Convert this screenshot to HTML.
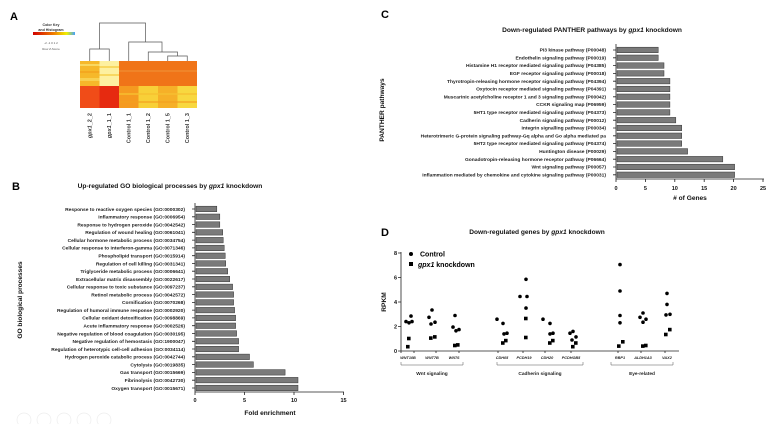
<!DOCTYPE html>
<html><head><meta charset="utf-8"><style>
html,body{margin:0;padding:0;background:#fff;}
svg{display:block;font-family:"Liberation Sans",Arial,sans-serif;}
.l{font-size:4.9px;font-weight:bold;fill:#222;text-anchor:end;}
.t{font-size:6.6px;font-weight:bold;fill:#111;}
.tk{font-size:5.5px;font-weight:bold;fill:#111;}
.bar{fill:#7a7a7a;stroke:#333;stroke-width:0.5;}
</style></head><body>
<svg width="774" height="424" viewBox="0 0 774 424" xmlns="http://www.w3.org/2000/svg">
<rect width="774" height="424" fill="#fff"/>
<!-- A -->
<text x="10" y="20" font-size="11" font-weight="bold">A</text>
<text x="51" y="26" font-size="3.6" font-weight="bold" text-anchor="middle" fill="#333">Color Key</text>
<text x="51" y="31" font-size="3.6" font-weight="bold" text-anchor="middle" fill="#333">and Histogram</text>
<defs><linearGradient id="ck" x1="0" x2="1"><stop offset="0" stop-color="#d00000"/><stop offset="0.5" stop-color="#f08000"/><stop offset="0.8" stop-color="#f0f000"/><stop offset="1" stop-color="#40a0ff"/></linearGradient></defs>
<rect x="33" y="32" width="42" height="3" fill="url(#ck)"/>
<text x="51" y="44" font-size="3" text-anchor="middle" fill="#555">-2  -1  0  1  2</text>
<text x="51" y="50" font-size="3" text-anchor="middle" fill="#555">Row Z-Score</text>
<g stroke="#555" stroke-width="0.7" fill="none">
<path d="M89.75 61V49H109.25V61M99.5 49V23H145.5V42"/>
<path d="M128.75 61V42H162V52"/>
<path d="M148.25 61V52H177.5V56"/>
<path d="M167.75 61V56H187.25V61"/>
</g>
<rect x="80" y="61" width="19.5" height="25" fill="#f6b82a"/>
<rect x="80" y="64" width="19.5" height="2" fill="#f9d860"/>
<rect x="80" y="71" width="19.5" height="2" fill="#f4a820"/>
<rect x="80" y="78" width="19.5" height="3" fill="#f8d050"/>
<rect x="99.5" y="61" width="19.5" height="25" fill="#fdf0a0"/>
<rect x="99.5" y="66" width="19.5" height="2" fill="#f8d860"/>
<rect x="99.5" y="74" width="19.5" height="2" fill="#f8d860"/>
<rect x="80" y="86" width="19.5" height="22" fill="#f04c18"/>
<rect x="99.5" y="86" width="19.5" height="22" fill="#e62a10"/>
<rect x="119" y="61" width="78" height="25" fill="#f07418"/>
<rect x="119" y="70" width="78" height="2" fill="#f08428"/>
<rect x="119" y="86" width="19.5" height="22" fill="#f59a20"/>
<rect x="138.5" y="86" width="19.5" height="22" fill="#f8d038"/>
<rect x="158" y="86" width="19.5" height="22" fill="#f6b028"/>
<rect x="177.5" y="86" width="19.5" height="22" fill="#f8d840"/>
<rect x="119" y="93" width="78" height="2" fill="#f6c030" opacity="0.7"/>
<rect x="119" y="101" width="78" height="2" fill="#f4a020" opacity="0.6"/>
<g font-size="5.5" font-weight="bold" fill="#333" text-anchor="end">
<text transform="translate(91.5,113) rotate(-90)"><tspan font-style="italic">gpx1</tspan>_2_2</text>
<text transform="translate(111,113) rotate(-90)"><tspan font-style="italic">gpx1</tspan>_1_1</text>
<text transform="translate(130.5,113) rotate(-90)">Control 1_1</text>
<text transform="translate(150,113) rotate(-90)">Control 1_2</text>
<text transform="translate(169.5,113) rotate(-90)">Control 1_5</text>
<text transform="translate(189,113) rotate(-90)">Control 1_3</text>
</g>
<!-- B -->
<text x="12" y="190" font-size="11" font-weight="bold">B</text>
<text class="t" x="170" y="188" text-anchor="middle">Up-regulated GO biological processes by <tspan font-style="italic">gpx1</tspan> knockdown</text>
<text class="t" transform="translate(22,300) rotate(-90)" text-anchor="middle">GO biological processes</text>
<g>
<rect class="bar" x="196" y="206.2" width="20.8" height="5.5"/>
<rect class="bar" x="196" y="214.0" width="23.8" height="5.5"/>
<rect class="bar" x="196" y="221.8" width="23.8" height="5.5"/>
<rect class="bar" x="196" y="229.6" width="26.7" height="5.5"/>
<rect class="bar" x="196" y="237.4" width="27.2" height="5.5"/>
<rect class="bar" x="196" y="245.2" width="28.2" height="5.5"/>
<rect class="bar" x="196" y="253.0" width="29.2" height="5.5"/>
<rect class="bar" x="196" y="260.7" width="29.7" height="5.5"/>
<rect class="bar" x="196" y="268.5" width="31.7" height="5.5"/>
<rect class="bar" x="196" y="276.3" width="33.7" height="5.5"/>
<rect class="bar" x="196" y="284.1" width="36.6" height="5.5"/>
<rect class="bar" x="196" y="291.8" width="37.6" height="5.5"/>
<rect class="bar" x="196" y="299.6" width="37.6" height="5.5"/>
<rect class="bar" x="196" y="307.4" width="38.6" height="5.5"/>
<rect class="bar" x="196" y="315.2" width="39.6" height="5.5"/>
<rect class="bar" x="196" y="323.0" width="39.6" height="5.5"/>
<rect class="bar" x="196" y="330.7" width="40.6" height="5.5"/>
<rect class="bar" x="196" y="338.5" width="42.6" height="5.5"/>
<rect class="bar" x="196" y="346.3" width="42.6" height="5.5"/>
<rect class="bar" x="196" y="354.1" width="53.5" height="5.5"/>
<rect class="bar" x="196" y="361.8" width="57.4" height="5.5"/>
<rect class="bar" x="196" y="369.6" width="89.1" height="5.5"/>
<rect class="bar" x="196" y="377.4" width="102" height="5.5"/>
<rect class="bar" x="196" y="385.2" width="102" height="5.5"/>
</g>
<g stroke="#222" stroke-width="0.8">
<line x1="195" y1="203" x2="195" y2="392"/>
<line x1="195" y1="392" x2="344" y2="392"/>
<line x1="195" y1="392" x2="195" y2="395"/><line x1="244.5" y1="392" x2="244.5" y2="395"/><line x1="294" y1="392" x2="294" y2="395"/><line x1="343.5" y1="392" x2="343.5" y2="395"/>
<path d="M192 209H195M192 216.8H195M192 224.6H195M192 232.3H195M192 240.1H195M192 247.9H195M192 255.7H195M192 263.5H195M192 271.2H195M192 279H195M192 286.8H195M192 294.6H195M192 302.4H195M192 310.1H195M192 317.9H195M192 325.7H195M192 333.5H195M192 341.3H195M192 349H195M192 356.8H195M192 364.6H195M192 372.4H195M192 380.2H195M192 388H195"/>
</g>
<g class="tk" text-anchor="middle"><text x="195" y="402">0</text><text x="244.5" y="402">5</text><text x="294" y="402">10</text><text x="343.5" y="402">15</text></g>
<text class="t" x="270" y="415" text-anchor="middle">Fold enrichment</text>
<g class="l">
<text x="185" y="210.8">Response to reactive oxygen species (GO:0000302)</text>
<text x="185" y="218.6">Inflammatory response (GO:0006954)</text>
<text x="185" y="226.4">Response to hydrogen peroxide (GO:0042542)</text>
<text x="185" y="234.1">Regulation of wound healing (GO:0061041)</text>
<text x="185" y="241.9">Cellular hormone metabolic process (GO:0034754)</text>
<text x="185" y="249.7">Cellular response to interferon-gamma (GO:0071346)</text>
<text x="185" y="257.5">Phospholipid transport (GO:0015914)</text>
<text x="185" y="265.3">Regulation of cell killing (GO:0031341)</text>
<text x="185" y="273.0">Triglyceride metabolic process (GO:0006641)</text>
<text x="185" y="280.8">Extracellular matrix disassembly (GO:0022617)</text>
<text x="185" y="288.6">Cellular response to toxic substance (GO:0097237)</text>
<text x="185" y="296.4">Retinol metabolic process (GO:0042572)</text>
<text x="185" y="304.2">Cornification (GO:0070268)</text>
<text x="185" y="311.9">Regulation of humoral immune response (GO:0002920)</text>
<text x="185" y="319.7">Cellular oxidant detoxification (GO:0098869)</text>
<text x="185" y="327.5">Acute inflammatory response (GO:0002526)</text>
<text x="185" y="335.3">Negative regulation of blood coagulation (GO:0030195)</text>
<text x="185" y="343.1">Negative regulation of hemostasis (GO:1900047)</text>
<text x="185" y="350.8">Regulation of heterotypic cell-cell adhesion (GO:0034114)</text>
<text x="185" y="358.6">Hydrogen peroxide catabolic process (GO:0042744)</text>
<text x="185" y="366.4">Cytolysis (GO:0019835)</text>
<text x="185" y="374.2">Gas transport (GO:0015669)</text>
<text x="185" y="382.0">Fibrinolysis (GO:0042730)</text>
<text x="185" y="389.8">Oxygen transport (GO:0015671)</text>
</g>
<g fill="none" stroke="#ededed" stroke-width="0.7">
<circle cx="24" cy="420" r="7"/><circle cx="44" cy="420" r="7"/><circle cx="64" cy="420" r="7"/><circle cx="84" cy="420" r="7"/><circle cx="104" cy="420" r="7"/>
</g>
<!-- C -->
<text x="381" y="18" font-size="11" font-weight="bold">C</text>
<text class="t" x="592" y="32" text-anchor="middle">Down-regulated PANTHER pathways by <tspan font-style="italic">gpx1</tspan> knockdown</text>
<text class="t" transform="translate(384,110) rotate(-90)" text-anchor="middle" font-size="5.5">PANTHER pathways</text>
<g>
<rect class="bar" x="617" y="47.2" width="41.2" height="5.5"/>
<rect class="bar" x="617" y="55.0" width="41.2" height="5.5"/>
<rect class="bar" x="617" y="62.8" width="47" height="5.5"/>
<rect class="bar" x="617" y="70.6" width="47" height="5.5"/>
<rect class="bar" x="617" y="78.4" width="52.9" height="5.5"/>
<rect class="bar" x="617" y="86.2" width="52.9" height="5.5"/>
<rect class="bar" x="617" y="94.0" width="52.9" height="5.5"/>
<rect class="bar" x="617" y="101.8" width="52.9" height="5.5"/>
<rect class="bar" x="617" y="109.6" width="52.9" height="5.5"/>
<rect class="bar" x="617" y="117.4" width="58.8" height="5.5"/>
<rect class="bar" x="617" y="125.2" width="64.7" height="5.5"/>
<rect class="bar" x="617" y="133.0" width="64.7" height="5.5"/>
<rect class="bar" x="617" y="140.8" width="64.7" height="5.5"/>
<rect class="bar" x="617" y="148.6" width="70.6" height="5.5"/>
<rect class="bar" x="617" y="156.4" width="105.8" height="5.5"/>
<rect class="bar" x="617" y="164.2" width="117.6" height="5.5"/>
<rect class="bar" x="617" y="172.0" width="117.6" height="5.5"/>
</g>
<g stroke="#222" stroke-width="0.8">
<line x1="616" y1="44" x2="616" y2="179"/>
<line x1="616" y1="179" x2="764" y2="179"/>
<path d="M616 179V182M645.4 179V182M674.8 179V182M704.2 179V182M733.6 179V182M763 179V182"/>
<path d="M613 50H616M613 57.8H616M613 65.6H616M613 73.4H616M613 81.2H616M613 89H616M613 96.8H616M613 104.6H616M613 112.4H616M613 120.2H616M613 128H616M613 135.8H616M613 143.6H616M613 151.4H616M613 159.2H616M613 167H616M613 174.8H616"/>
</g>
<g class="tk" text-anchor="middle"><text x="616" y="190">0</text><text x="645.4" y="190">5</text><text x="674.8" y="190">10</text><text x="704.2" y="190">15</text><text x="733.6" y="190">20</text><text x="763" y="190">25</text></g>
<text class="t" x="690" y="200" text-anchor="middle" font-size="5.8"># of Genes</text>
<g class="l" font-size="4.6">
<text x="606" y="51.6">PI3 kinase pathway (P00048)</text>
<text x="606" y="59.4">Endothelin signaling pathway (P00019)</text>
<text x="606" y="67.2">Histamine H1 receptor mediated signaling pathway (P04385)</text>
<text x="606" y="75.0">EGF receptor signaling pathway (P00018)</text>
<text x="606" y="82.8">Thyrotropin-releasing hormone receptor signaling pathway (P04394)</text>
<text x="606" y="90.6">Oxytocin receptor mediated signaling pathway (P04391)</text>
<text x="606" y="98.4">Muscarinic acetylcholine receptor 1 and 3 signaling pathway (P00042)</text>
<text x="606" y="106.2">CCKR signaling map (P06959)</text>
<text x="606" y="114.0">5HT1 type receptor mediated signaling pathway (P04373)</text>
<text x="606" y="121.8">Cadherin signaling pathway (P00012)</text>
<text x="606" y="129.6">Integrin signalling pathway (P00034)</text>
<text x="606" y="137.4">Heterotrimeric G-protein signaling pathway-Gq alpha and Go alpha mediated pa</text>
<text x="606" y="145.2">5HT2 type receptor mediated signaling pathway (P04374)</text>
<text x="606" y="153.0">Huntington disease (P00029)</text>
<text x="606" y="160.8">Gonadotropin-releasing hormone receptor pathway (P06664)</text>
<text x="606" y="168.6">Wnt signaling pathway (P00057)</text>
<text x="606" y="176.4">Inflammation mediated by chemokine and cytokine signaling pathway (P00031)</text>
</g>
<!-- D -->
<text x="381" y="236" font-size="11" font-weight="bold">D</text>
<text class="t" x="537" y="234" text-anchor="middle">Down-regulated genes by <tspan font-style="italic">gpx1</tspan> knockdown</text>
<text class="t" transform="translate(386,302) rotate(-90)" text-anchor="middle" font-size="5.5">RPKM</text>
<g stroke="#222" stroke-width="0.8">
<line x1="401" y1="252" x2="401" y2="351"/>
<line x1="401" y1="351" x2="679" y2="351"/>
<path d="M398 351H401M398 326.5H401M398 302H401M398 277.5H401M398 253H401"/>
<path d="M401 351V353M414 351V353M436 351V353M459 351V353M498 351V353M523 351V353M545 351V353M571 351V353M618 351V353M641 351V353M665 351V353"/>
</g>
<g class="tk" text-anchor="end"><text x="397" y="353">0</text><text x="397" y="328.5">2</text><text x="397" y="304">4</text><text x="397" y="279.5">6</text><text x="397" y="255">8</text></g>
<circle cx="411" cy="254" r="2"/><text x="420" y="256.5" font-size="7" font-weight="bold">Control</text>
<rect x="409" y="262" width="4" height="4"/><text x="418" y="267" font-size="7" font-weight="bold"><tspan font-style="italic">gpx1</tspan> knockdown</text>
<g>
<circle cx="406" cy="321.6" r="1.8"/><circle cx="409" cy="322.8" r="1.8"/><circle cx="411" cy="316.1" r="1.8"/><circle cx="412" cy="321.6" r="1.8"/>
<circle cx="429" cy="317.3" r="1.8"/><circle cx="432" cy="310" r="1.8"/><circle cx="431" cy="324" r="1.8"/><circle cx="435" cy="322.2" r="1.8"/>
<circle cx="453" cy="327.1" r="1.8"/><circle cx="455" cy="315.5" r="1.8"/><circle cx="456" cy="330.8" r="1.8"/><circle cx="459" cy="329.6" r="1.8"/>
<circle cx="497" cy="319.2" r="1.8"/><circle cx="503" cy="323.4" r="1.8"/><circle cx="504" cy="333.9" r="1.8"/><circle cx="507" cy="333.2" r="1.8"/>
<circle cx="520" cy="296.5" r="1.8"/><circle cx="527" cy="296.5" r="1.8"/><circle cx="526" cy="279.3" r="1.8"/><circle cx="526" cy="308.1" r="1.8"/>
<circle cx="543" cy="319.2" r="1.8"/><circle cx="550" cy="323.4" r="1.8"/><circle cx="550" cy="333.9" r="1.8"/><circle cx="553" cy="333.2" r="1.8"/>
<circle cx="570" cy="333.2" r="1.8"/><circle cx="573" cy="331.4" r="1.8"/><circle cx="576" cy="336.9" r="1.8"/><circle cx="572" cy="340" r="1.8"/>
<circle cx="620" cy="264.6" r="1.8"/><circle cx="620" cy="291" r="1.8"/><circle cx="620" cy="315.5" r="1.8"/><circle cx="620" cy="322.8" r="1.8"/>
<circle cx="640" cy="317.3" r="1.8"/><circle cx="643" cy="313" r="1.8"/><circle cx="643" cy="322.2" r="1.8"/><circle cx="646" cy="319.2" r="1.8"/>
<circle cx="667" cy="293.4" r="1.8"/><circle cx="667" cy="304.4" r="1.8"/><circle cx="666" cy="314.9" r="1.8"/><circle cx="670" cy="314.3" r="1.8"/>
</g>
<g>
<rect x="407" y="336.7" width="3.6" height="3.6"/><rect x="406" y="344.9" width="3.6" height="3.6"/>
<rect x="429" y="336.3" width="3.6" height="3.6"/><rect x="433" y="335.1" width="3.6" height="3.6"/>
<rect x="453" y="343.7" width="3.6" height="3.6"/><rect x="456" y="343.1" width="3.6" height="3.6"/>
<rect x="501" y="341.2" width="3.6" height="3.6"/><rect x="504" y="338.8" width="3.6" height="3.6"/>
<rect x="524" y="316.7" width="3.6" height="3.6"/><rect x="524" y="335.7" width="3.6" height="3.6"/>
<rect x="548" y="341.2" width="3.6" height="3.6"/><rect x="551" y="338.8" width="3.6" height="3.6"/>
<rect x="571" y="344.9" width="3.6" height="3.6"/><rect x="574" y="341.2" width="3.6" height="3.6"/>
<rect x="617" y="344.3" width="3.6" height="3.6"/><rect x="621" y="340" width="3.6" height="3.6"/>
<rect x="641" y="344.3" width="3.6" height="3.6"/><rect x="644" y="343.7" width="3.6" height="3.6"/>
<rect x="664" y="332.7" width="3.6" height="3.6"/><rect x="668" y="327.8" width="3.6" height="3.6"/>
</g>
<g font-size="3.8" font-weight="bold" font-style="italic" fill="#222" text-anchor="middle">
<text x="408" y="359">WNT10B</text><text x="432" y="359">WNT7B</text><text x="454" y="359">WNT6</text>
<text x="502" y="359">CDH05</text><text x="524" y="359">PCDH19</text><text x="547" y="359">CDH20</text><text x="571" y="359">PCDHGB5</text>
<text x="620" y="359">RBP1</text><text x="643" y="359">ALDH1A3</text><text x="667" y="359">VAX2</text>
</g>
<g stroke="#555" stroke-width="0.5" fill="none">
<path d="M401 362V365H463V362"/>
<path d="M497 362V365H583V362"/>
<path d="M611 362V365H673V362"/>
</g>
<g font-size="4.8" font-weight="bold" fill="#222" text-anchor="middle">
<text x="432" y="375">Wnt signaling</text><text x="540" y="375">Cadherin signaling</text><text x="642" y="375">Eye-related</text>
</g>
</svg>
</body></html>
